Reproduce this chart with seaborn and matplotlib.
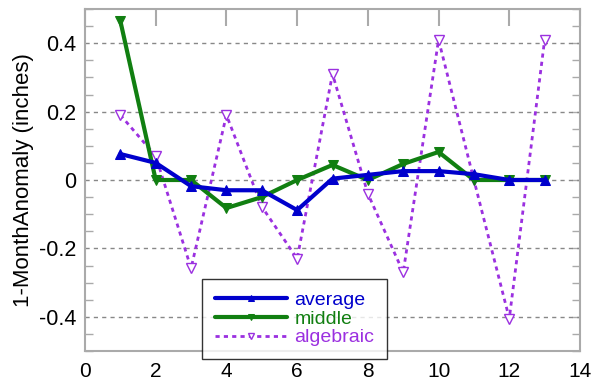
import matplotlib
matplotlib.use("Agg")
import matplotlib.pyplot as plt
import seaborn as sns
import numpy as np
import pandas as pd
from matplotlib.ticker import MultipleLocator

months = [1, 2, 3, 4, 5, 6, 7, 8, 9, 10, 11, 12, 13]
average = [0.076, 0.05, -0.018, -0.03, -0.03, -0.088, 0.004, 0.015, 0.026, 0.026, 0.017, 0.0, 0.0]
middle = [0.465, 0.0, 0.0, -0.082, -0.05, 0.0, 0.044, 0.0, 0.047, 0.082, 0.0, 0.0, 0.0]
algebraic = [0.19, 0.07, -0.258, 0.19, -0.078, -0.23, 0.31, -0.04, -0.27, 0.41, 0.0, -0.405, 0.41]
yticks = [-0.4, -0.2, 0, 0.2, 0.4]
ytick_labels = ["-0.4", "-0.2", "0", "0.2", "0.4"]
xticks = [0, 2, 4, 6, 8, 10, 12, 14]
xtick_labels = ["0", "2", "4", "6", "8", "10", "12", "14"]

sns.set_theme(style="white")
plt.rcParams['font.family'] = ['Liberation Sans', 'DejaVu Sans']

fig = plt.figure(figsize=(5.93, 3.85), dpi=100)
ax = fig.add_axes([85/593, 1-351/385, (580-85)/593, (351-9)/385])

df = pd.DataFrame({"x": months, "average": average, "middle": middle, "algebraic": algebraic})

sns.lineplot(data=df, x="x", y="average", ax=ax, color="#0000cc", lw=3,
             marker="^", markersize=7, markeredgecolor="#0000cc", label="average", zorder=4)
sns.lineplot(data=df, x="x", y="middle", ax=ax, color="#117f11", lw=3,
             marker="v", markersize=7, markeredgecolor="#117f11", label="middle", zorder=3)
sns.lineplot(data=df, x="x", y="algebraic", ax=ax, color="#9b30e0", lw=2, linestyle=(0, (1.5, 1.5)),
             marker="v", markersize=7, markerfacecolor="white", markeredgecolor="#9b30e0",
             markeredgewidth=1, label="algebraic", zorder=2)

ax.set_xlim(0, 14)
ax.set_ylim(-0.5, 0.5)
ax.yaxis.set_minor_locator(MultipleLocator(0.05))
ax.set_yticks(yticks)
ax.set_yticklabels(ytick_labels)
ax.set_xticks(xticks)
ax.set_xticklabels(xtick_labels)

for yv in yticks:
    ax.axhline(yv, color="#888888", lw=1, linestyle=(0, (3, 3)), zorder=1)

ax.tick_params(axis="both", which="both", direction="in", colors="#aaaaaa",
               labelcolor="black", labelsize=15.5, top=True, right=True)
ax.tick_params(axis="x", which="major", length=12, width=1.5, pad=8, labelsize=15)
ax.tick_params(axis="y", which="major", length=6, width=1, pad=6)
ax.tick_params(axis="y", which="minor", length=6, width=1, left=True, right=True)

for s in ax.spines.values():
    s.set_color("#aaaaaa")
    s.set_linewidth(1.5)

ax.set_xlabel("")
ax.set_ylabel("1-MonthAnomaly (inches)", fontsize=16, color="black", labelpad=4)

leg = ax.legend(loc="lower left", bbox_to_anchor=(202/593, 1-359/385),
                bbox_transform=fig.transFigure, borderaxespad=0, frameon=True,
                fancybox=False, edgecolor="black", fontsize=14, handlelength=3.7,
                handletextpad=0.4, labelspacing=0.05, borderpad=0.65, numpoints=1)
leg.get_frame().set_linewidth(1)
for t, c in zip(leg.get_texts(), ["#0000cc", "#117f11", "#9b30e0"]):
    t.set_color(c)
for h in leg.legend_handles:
    h.set_markersize(5)
leg.set_zorder(10)

fig.savefig("out.png", dpi=100)
